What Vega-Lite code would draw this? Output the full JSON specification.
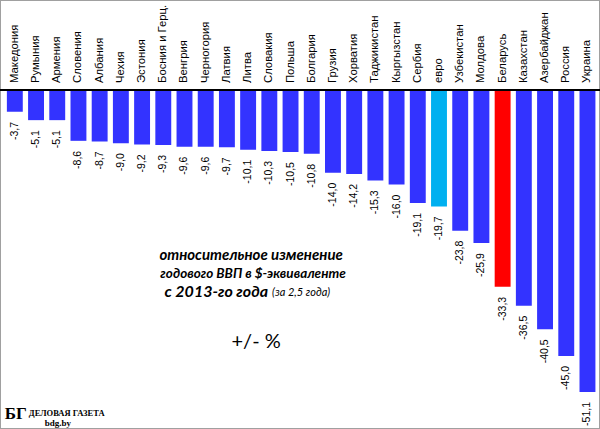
{
  "$schema": "https://vega.github.io/schema/vega-lite/v6.json",
  "width": 600,
  "height": 429,
  "autosize": "none",
  "padding": 0,
  "background": "white",
  "config": {
    "view": {"stroke": "#a0a0a0", "strokeWidth": 2},
    "locale": {
      "number": {"decimal": ",", "thousands": " ", "grouping": [3], "currency": ["", ""], "minus": "-"}
    }
  },
  "data": {
    "values": [
      {"country": "Македония", "value": -3.7},
      {"country": "Румыния", "value": -5.1},
      {"country": "Армения", "value": -5.1},
      {"country": "Словения", "value": -8.6},
      {"country": "Албания", "value": -8.7},
      {"country": "Чехия", "value": -9.0},
      {"country": "Эстония", "value": -9.2},
      {"country": "Босния и Герц.", "value": -9.3},
      {"country": "Венгрия", "value": -9.6},
      {"country": "Черногория", "value": -9.6},
      {"country": "Латвия", "value": -9.7},
      {"country": "Литва", "value": -10.1},
      {"country": "Словакия", "value": -10.3},
      {"country": "Польша", "value": -10.5},
      {"country": "Болгария", "value": -10.8},
      {"country": "Грузия", "value": -14.0},
      {"country": "Хорватия", "value": -14.2},
      {"country": "Таджикистан", "value": -15.3},
      {"country": "Кыргызстан", "value": -16.0},
      {"country": "Сербия", "value": -19.1},
      {"country": "евро", "value": -19.7},
      {"country": "Узбекистан", "value": -23.8},
      {"country": "Молдова", "value": -25.9},
      {"country": "Беларусь", "value": -33.3},
      {"country": "Казахстан", "value": -36.5},
      {"country": "Азербайджан", "value": -40.5},
      {"country": "Россия", "value": -45.0},
      {"country": "Украина", "value": -51.1}
    ]
  },
  "encoding": {
    "x": {
      "field": "country",
      "type": "nominal",
      "sort": null,
      "axis": null,
      "scale": {"paddingInner": 0.25, "paddingOuter": 0.27, "align": 0.6}
    }
  },
  "layer": [
    {
      "mark": {"type": "bar"},
      "encoding": {
        "y": {
          "field": "value",
          "type": "quantitative",
          "axis": null,
          "scale": {"domain": [-57.36, 15.23], "nice": false, "zero": false}
        },
        "color": {
          "condition": [
            {"test": "datum.country === 'евро'", "value": "#00b0f0"},
            {"test": "datum.country === 'Беларусь'", "value": "#ff0000"}
          ],
          "value": "#3333ff"
        }
      }
    },
    {
      "mark": {"type": "rule", "color": "black", "strokeWidth": 1},
      "encoding": {"y": {"datum": 0}, "x": null}
    },
    {
      "mark": {"type": "text", "angle": 270, "align": "left", "baseline": "middle", "dx": 7, "font": "Liberation Sans", "fontSize": 11.3, "color": "black"},
      "encoding": {
        "y": {"datum": 0},
        "text": {"field": "country"}
      }
    },
    {
      "mark": {"type": "text", "angle": 270, "align": "right", "baseline": "middle", "dx": -10, "font": "Liberation Sans", "fontSize": 10.5, "color": "black"},
      "encoding": {
        "y": {"field": "value", "type": "quantitative"},
        "text": {"field": "value", "type": "quantitative", "format": ".1f"}
      }
    },
    {
      "data": {"values": [{"anchor": "Литва", "y": -27.9, "label": "относительное изменение"}]},
      "mark": {"type": "text", "align": "center", "baseline": "middle", "dx": 3, "font": "Lato", "fontSize": 15, "fontStyle": "italic", "fontWeight": "bold", "color": "black"},
      "encoding": {
        "x": {"field": "anchor", "type": "nominal"},
        "y": {"field": "y", "type": "quantitative"},
        "text": {"field": "label"}
      }
    },
    {
      "data": {"values": [{"anchor": "Литва", "y": -31.2, "label": "годового  ВВП в $-эквиваленте"}]},
      "mark": {"type": "text", "align": "center", "baseline": "middle", "dx": 5, "font": "Lato", "fontSize": 13.5, "fontStyle": "italic", "fontWeight": "bold", "color": "black"},
      "encoding": {
        "x": {"field": "anchor", "type": "nominal"},
        "y": {"field": "y", "type": "quantitative"},
        "text": {"field": "label"}
      }
    },
    {
      "data": {"values": [{"anchor": "Литва", "y": -34.2, "label": "с 2013-го года"}]},
      "mark": {"type": "text", "align": "right", "baseline": "middle", "dx": 20, "font": "Lato", "fontSize": 16, "fontStyle": "italic", "fontWeight": "bold", "color": "black"},
      "encoding": {
        "x": {"field": "anchor", "type": "nominal"},
        "y": {"field": "y", "type": "quantitative"},
        "text": {"field": "label"}
      }
    },
    {
      "data": {"values": [{"anchor": "Литва", "y": -34.2, "label": "(за 2,5 года)"}]},
      "mark": {"type": "text", "align": "left", "baseline": "middle", "dx": 24, "dy": 1, "font": "Lato", "fontSize": 11, "fontStyle": "italic", "color": "black"},
      "encoding": {
        "x": {"field": "anchor", "type": "nominal"},
        "y": {"field": "y", "type": "quantitative"},
        "text": {"field": "label"}
      }
    },
    {
      "data": {"values": [{"anchor": "Литва", "y": -42.6, "label": "+/- %"}]},
      "mark": {"type": "text", "align": "center", "baseline": "middle", "dx": 8, "font": "Lato", "fontSize": 20, "color": "black"},
      "encoding": {
        "x": {"field": "anchor", "type": "nominal"},
        "y": {"field": "y", "type": "quantitative"},
        "text": {"field": "label"}
      }
    },
    {
      "data": {"values": [{"anchor": "Македония", "y": -54.8, "label": "БГ"}]},
      "mark": {"type": "text", "align": "left", "baseline": "middle", "dx": -10, "font": "Liberation Serif", "fontSize": 17, "fontWeight": "bold", "color": "black"},
      "encoding": {
        "x": {"field": "anchor", "type": "nominal"},
        "y": {"field": "y", "type": "quantitative"},
        "text": {"field": "label"}
      }
    },
    {
      "data": {"values": [{"anchor": "Македония", "y": -54.6, "label": "ДЕЛОВАЯ ГАЗЕТА"}]},
      "mark": {"type": "text", "align": "left", "baseline": "middle", "dx": 14, "font": "Liberation Serif", "fontSize": 8.5, "fontWeight": "bold", "color": "black"},
      "encoding": {
        "x": {"field": "anchor", "type": "nominal"},
        "y": {"field": "y", "type": "quantitative"},
        "text": {"field": "label"}
      }
    },
    {
      "data": {"values": [{"anchor": "Македония", "y": -56.3, "label": "bdg.by"}]},
      "mark": {"type": "text", "align": "left", "baseline": "middle", "dx": 30, "font": "Liberation Serif", "fontSize": 9, "fontWeight": "bold", "color": "black"},
      "encoding": {
        "x": {"field": "anchor", "type": "nominal"},
        "y": {"field": "y", "type": "quantitative"},
        "text": {"field": "label"}
      }
    }
  ]
}
